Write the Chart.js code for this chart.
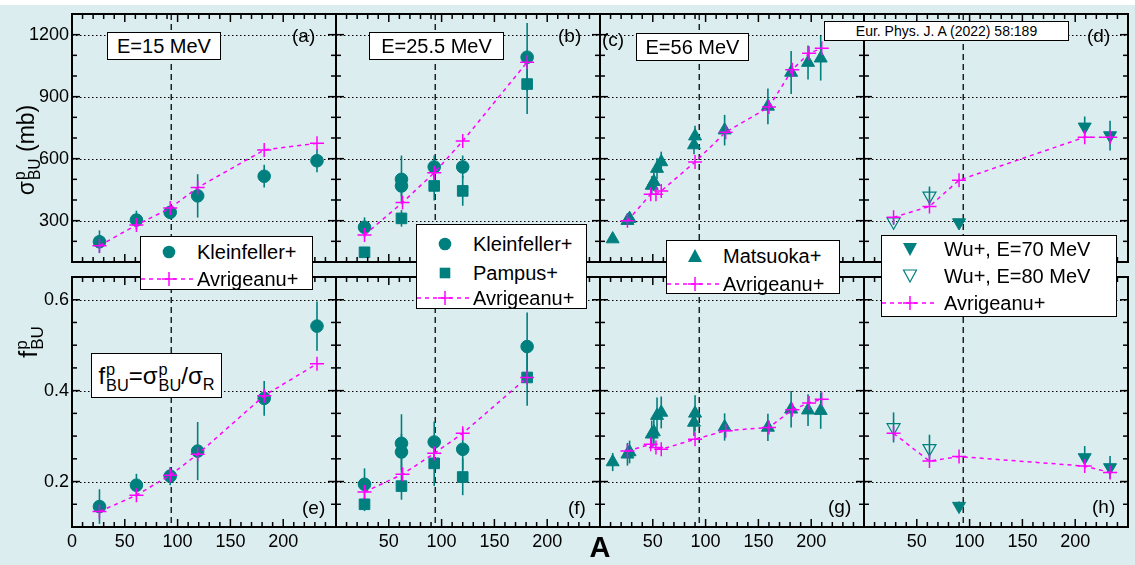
<!DOCTYPE html>
<html><head><meta charset="utf-8">
<script src="https://cdn.jsdelivr.net/npm/chart.js@4/dist/chart.umd.min.js"></script>
<style>
html,body{margin:0;padding:0;}
body{width:1135px;height:565px;position:relative;overflow:hidden;background:#fff;font-family:Arial,"Liberation Sans",Helvetica,sans-serif;color:#000;}
#bg{position:absolute;left:0;top:5px;width:1135px;height:560px;background:#dcedef;}
canvas{position:absolute;}
.box{position:absolute;background:#fff;border:1px solid #000;box-sizing:border-box;}
.t{position:absolute;white-space:nowrap;}
.lt{position:absolute;white-space:nowrap;font-size:20px;line-height:24px;}
.lm{position:absolute;}
.ss{display:inline-flex;flex-direction:column;vertical-align:middle;font-size:0.68em;line-height:0.95;text-align:left;margin-left:1px;}
.pl{position:absolute;font-size:19px;line-height:22px;white-space:nowrap;}
</style>
</head><body>
<div id="bg"></div>

<script>
// ---------------- DATA ----------------
const xLabelTicks = [0, 50, 100, 150, 200];
const sigmaLabelTicks = [300, 600, 900, 1200];
const fLabelTicks = [0.2, 0.4, 0.6];
const dividerA = 94;

// (a) E=15 MeV, sigma_BU^p (mb)
const aKleinA = [26, 61, 93, 119, 182, 232];
const aKleinSig = [198, 303, 340, 420, 515, 590];
const aKleinErr = [55, 45, 30, 105, 55, 56];
const aAvrA = [26, 61, 93, 119, 182, 232];
const aAvrSig = [179, 279, 361, 460, 642, 674];

// (e) E=15 MeV, f_BU^p
const eKleinF = [0.145, 0.192, 0.212, 0.267, 0.383, 0.542];
const eKleinErr = [0.038, 0.025, 0.02, 0.064, 0.038, 0.054];
const eAvrF = [0.134, 0.170, 0.214, 0.260, 0.389, 0.459];

// (b) E=25.5 MeV
const bKleinA = [27, 62, 62, 93, 120, 181];
const bKleinSig = [268, 500, 468, 560, 560, 1091];
const bKleinErr = [48, 115, 50, 55, 55, 165];
const bPampA = [27, 62, 93, 120, 181];
const bPampSig = [147, 311, 468, 444, 961];
const bPampErr = [12, 40, 70, 72, 145];
const bAvrA = [27, 63, 93, 120, 181];
const bAvrSig = [231, 388, 532, 685, 1067];

// (f) E=25.5 MeV
const fKleinF = [0.194, 0.284, 0.265, 0.287, 0.271, 0.497];
const fKleinErr = [0.035, 0.064, 0.04, 0.045, 0.045, 0.075];
const fPampF = [0.150, 0.190, 0.240, 0.210, 0.429];
const fPampErr = [0.015, 0.03, 0.05, 0.04, 0.062];
const fAvrF = [0.177, 0.216, 0.262, 0.306, 0.429];

// (c) E=56 MeV
const cMatA = [12, 26, 28, 49, 51, 54, 58, 89, 90, 118, 159, 181, 197, 209];
const cMatSig = [211, 300, 310, 470, 488, 552, 584, 666, 709, 738, 853, 1017, 1065, 1086];
const cMatErr = [15, 20, 20, 45, 45, 50, 50, 45, 50, 74, 87, 104, 82, 108];
const cAvrA = [26, 48, 53, 58, 90, 119, 160, 182, 198, 210];
const cAvrSig = [300, 428, 428, 444, 584, 728, 850, 1030, 1110, 1134];

// (g) E=56 MeV
const gMatF = [0.243, 0.260, 0.265, 0.304, 0.309, 0.345, 0.352, 0.330, 0.350, 0.320, 0.319, 0.359, 0.357, 0.356];
const gMatErr = [0.02, 0.025, 0.025, 0.03, 0.03, 0.04, 0.035, 0.03, 0.04, 0.03, 0.03, 0.04, 0.035, 0.04];
const gAvrF = [0.267, 0.282, 0.275, 0.271, 0.293, 0.312, 0.319, 0.358, 0.373, 0.381];

// (d) Wu+ E=70 / 80 MeV
const dWu70A = [90, 209, 233];
const dWu70Sig = [291, 754, 712];
const dWu70Err = [10, 50, 72];
const dWu80A = [28, 62];
const dWu80Sig = [295, 420];
const dWu80Err = [15, 45];
const dAvrA = [28, 62, 90, 209, 233];
const dAvrSig = [316, 369, 496, 704, 704];

// (h)
const hWu70F = [0.146, 0.253, 0.231];
const hWu70Err = [0.01, 0.025, 0.025];
const hWu80F = [0.319, 0.273];
const hWu80Err = [0.033, 0.03];
const hAvrF = [0.306, 0.245, 0.255, 0.234, 0.220];

// ---------------- STYLE / LAYOUT ----------------
const TEAL = '#007f7f';
const MAG = '#ff00ff';
const colLeft = [72, 336, 600, 864];
const panelW = 264;
const rowTop = [14, 277];
const rowH = [248, 250];
const rowRange = [{min:100, max:1300, minor:100, major:300}, {min:0.1, max:0.65, minor:0.05, major:0.2}];
const PADL = 60, PADT = 24, PADR = 24, PADB = 40;

function pts(xs, ys){ return xs.map((x,i)=>({x:x, y:ys[i]})); }

function avr(xs, ys){
  return {data:pts(xs,ys), showLine:true, borderColor:MAG, borderWidth:1.5, borderDash:[4,4],
    pointStyle:'cross', pointRadius:7, pointBorderWidth:1.5, pointBorderColor:MAG, backgroundColor:MAG, fill:false};
}
function marks(xs, ys, errs, style, opts){
  return Object.assign({data:pts(xs,ys), errors:errs, showLine:false, pointStyle:style, pointRadius:6.3,
    backgroundColor:TEAL, borderColor:TEAL, pointBorderWidth:1}, opts||{});
}

const framePlugin = {
  id:'frame',
  beforeDatasetsDraw(chart){
    const {ctx, chartArea:ca, scales:{x,y}} = chart;
    const o = chart.options.plugins.frame;
    ctx.save();
    ctx.strokeStyle = '#000'; ctx.lineWidth = 1; ctx.setLineDash([1.5,2.5]);
    o.yLabels.forEach(v=>{
      const py = Math.round(y.getPixelForValue(v))+0.5;
      ctx.beginPath(); ctx.moveTo(ca.left, py); ctx.lineTo(ca.right, py); ctx.stroke();
    });
    ctx.strokeStyle = '#222'; ctx.lineWidth = 1.5; ctx.setLineDash([6,4]);
    const dx = x.getPixelForValue(o.divider);
    ctx.beginPath(); ctx.moveTo(dx, ca.top); ctx.lineTo(dx, ca.bottom); ctx.stroke();
    ctx.setLineDash([]);
    ctx.beginPath(); ctx.rect(ca.left, ca.top, ca.right-ca.left, ca.bottom-ca.top); ctx.clip();
    chart.data.datasets.forEach(ds=>{
      if(!ds.errors) return;
      ctx.strokeStyle = TEAL; ctx.lineWidth = 1.6;
      ds.data.forEach((p,j)=>{
        const e = ds.errors[j]; if(!e) return;
        const px = x.getPixelForValue(p.x);
        ctx.beginPath(); ctx.moveTo(px, y.getPixelForValue(p.y-e)); ctx.lineTo(px, y.getPixelForValue(p.y+e)); ctx.stroke();
      });
    });
    ctx.restore();
  },
  afterDatasetsDraw(chart){
    const {ctx, chartArea:ca, scales:{x,y}} = chart;
    const o = chart.options.plugins.frame;
    ctx.save();
    ctx.strokeStyle = '#000'; ctx.setLineDash([]);
    ctx.lineWidth = 1.5;
    const eps = 1e-6;
    for(let v = 0; v <= 250+eps; v += 10){
      const px = x.getPixelForValue(v);
      const major = Math.abs(v/50 - Math.round(v/50)) < eps;
      const L = major ? 8 : 5;
      ctx.beginPath(); ctx.moveTo(px, ca.bottom); ctx.lineTo(px, ca.bottom-L); ctx.stroke();
      ctx.beginPath(); ctx.moveTo(px, ca.top); ctx.lineTo(px, ca.top+L); ctx.stroke();
    }
    for(let v = o.min; v <= o.max+eps; v += o.minor){
      const py = y.getPixelForValue(v);
      const r = v/o.major;
      const major = Math.abs(r - Math.round(r)) < 1e-4;
      const L = major ? 8 : 5;
      ctx.beginPath(); ctx.moveTo(ca.left, py); ctx.lineTo(ca.left+L, py); ctx.stroke();
      ctx.beginPath(); ctx.moveTo(ca.right, py); ctx.lineTo(ca.right-L, py); ctx.stroke();
    }
    ctx.lineWidth = 2;
    ctx.strokeRect(ca.left, ca.top, ca.right-ca.left, ca.bottom-ca.top);
    ctx.restore();
  }
};

function makePanel(row, col, datasets){
  const c = document.createElement('canvas');
  const w = panelW + PADL + PADR, h = rowH[row] + PADT + PADB;
  c.width = w; c.height = h;
  c.style.left = (colLeft[col]-PADL)+'px';
  c.style.top = (rowTop[row]-PADT)+'px';
  c.style.width = w+'px'; c.style.height = h+'px';
  document.body.appendChild(c);
  const rr = rowRange[row];
  const yLabels = row===0 ? sigmaLabelTicks : fLabelTicks;
  new Chart(c.getContext('2d'), {
    type:'scatter',
    data:{datasets:datasets},
    options:{
      responsive:false, animation:false, devicePixelRatio:1,
      layout:{padding:{top:PADT, right:PADR, left:0, bottom:0}},
      plugins:{legend:{display:false}, tooltip:{enabled:false},
        frame:{yLabels:yLabels, divider:dividerA, min:rr.min, max:rr.max, minor:rr.minor, major:rr.major}},
      scales:{
        x:{type:'linear', min:0, max:250,
          grid:{display:false, drawTicks:false}, border:{display:false},
          afterBuildTicks:(s)=>{ s.ticks = xLabelTicks.map(v=>({value:v})); },
          afterFit:(s)=>{ s.height = PADB; },
          ticks:{display: row===1, padding:4, color:'#000', font:{size:18, family:'Arial, "Liberation Sans", sans-serif'},
            autoSkip:false, maxRotation:0,
            callback:(v)=> (col>0 && v===0) ? '' : String(v)}
        },
        y:{type:'linear', min:rr.min, max:rr.max,
          grid:{display:false, drawTicks:false}, border:{display:false},
          afterBuildTicks:(s)=>{ s.ticks = yLabels.map(v=>({value:v})); },
          afterFit:(s)=>{ s.width = PADL; },
          ticks:{display: col===0, padding:3, color:'#000', font:{size:18, family:'Arial, "Liberation Sans", sans-serif'},
            autoSkip:false, callback:(v)=> String(v)}
        }
      }
    },
    plugins:[framePlugin]
  });
}

// top row
makePanel(0,0,[ avr(aAvrA,aAvrSig), marks(aKleinA,aKleinSig,aKleinErr,'circle') ]);
makePanel(0,1,[ avr(bAvrA,bAvrSig), marks(bKleinA,bKleinSig,bKleinErr,'circle'), marks(bPampA,bPampSig,bPampErr,'rect',{pointRadius:7.5}) ]);
makePanel(0,2,[ avr(cAvrA,cAvrSig), marks(cMatA,cMatSig,cMatErr,'triangle',{pointRadius:7.5}) ]);
makePanel(0,3,[ avr(dAvrA,dAvrSig), marks(dWu70A,dWu70Sig,dWu70Err,'triangle',{pointRadius:7.5, rotation:180}),
  marks(dWu80A,dWu80Sig,dWu80Err,'triangle',{pointRadius:7.5, rotation:180, backgroundColor:'rgba(0,0,0,0)', pointBorderWidth:1.2}) ]);
// bottom row
makePanel(1,0,[ avr(aAvrA,eAvrF), marks(aKleinA,eKleinF,eKleinErr,'circle') ]);
makePanel(1,1,[ avr(bAvrA,fAvrF), marks(bKleinA,fKleinF,fKleinErr,'circle'), marks(bPampA,fPampF,fPampErr,'rect',{pointRadius:7.5}) ]);
makePanel(1,2,[ avr(cAvrA,gAvrF), marks(cMatA,gMatF,gMatErr,'triangle',{pointRadius:7.5}) ]);
makePanel(1,3,[ avr(dAvrA,hAvrF), marks(dWu70A,hWu70F,hWu70Err,'triangle',{pointRadius:7.5, rotation:180}),
  marks(dWu80A,hWu80F,hWu80Err,'triangle',{pointRadius:7.5, rotation:180, backgroundColor:'rgba(0,0,0,0)', pointBorderWidth:1.2}) ]);
</script>

<!-- axis titles -->
<div class="t" style="left:28px;top:150px;transform:translate(-50%,-50%) rotate(-90deg);font-size:23px;">σ<span class="ss"><span>p</span><span>BU</span></span> (mb)</div>
<div class="t" style="left:30px;top:342px;transform:translate(-50%,-50%) rotate(-90deg);font-size:25px;">f<span class="ss"><span>p</span><span>BU</span></span></div>
<div class="t" style="left:600px;top:547px;transform:translate(-50%,-50%);font-size:29px;font-weight:bold;">A</div>

<!-- panel labels -->
<div class="pl" style="left:292px;top:25px;">(a)</div>
<div class="pl" style="left:558px;top:25px;">(b)</div>
<div class="pl" style="left:602px;top:29px;">(c)</div>
<div class="pl" style="left:1087px;top:25px;">(d)</div>
<div class="pl" style="left:302px;top:497px;">(e)</div>
<div class="pl" style="left:568px;top:497px;">(f)</div>
<div class="pl" style="left:828px;top:496px;">(g)</div>
<div class="pl" style="left:1092px;top:496px;">(h)</div>

<!-- energy boxes -->
<div class="box" style="left:107px;top:32px;width:114px;height:28px;font-size:20px;line-height:26px;text-align:center;">E=15 MeV</div>
<div class="box" style="left:369px;top:32px;width:135px;height:28px;font-size:20px;line-height:26px;text-align:center;">E=25.5 MeV</div>
<div class="box" style="left:636px;top:33px;width:113px;height:28px;font-size:20px;line-height:26px;text-align:center;">E=56 MeV</div>
<div class="box" style="left:824px;top:21px;width:245px;height:20px;font-size:14px;line-height:18px;text-align:center;">Eur. Phys. J. A (2022) 58:189</div>

<!-- formula box -->
<div class="box" style="left:91px;top:353px;width:131px;height:45px;font-size:24px;line-height:43px;text-align:center;">f<span class="ss"><span>p</span><span>BU</span></span>=σ<span class="ss"><span>p</span><span>BU</span></span>/σ<sub style="font-size:0.68em;">R</sub></div>

<!-- legend (a/e) -->
<div class="box" style="left:140px;top:236px;width:173px;height:54px;">
  <svg class="lm" style="left:20px;top:7px" width="16" height="16"><circle cx="8" cy="8" r="6.3" fill="#007f7f"/></svg>
  <div class="lt" style="left:56px;top:3px;">Kleinfeller+</div>
  <svg class="lm" style="left:0;top:34px" width="56" height="16"><line x1="0" y1="8" x2="54" y2="8" stroke="#ff00ff" stroke-width="1.5" stroke-dasharray="4 4"/><line x1="21" y1="8" x2="35" y2="8" stroke="#ff00ff" stroke-width="1.5"/><line x1="28" y1="1" x2="28" y2="15" stroke="#ff00ff" stroke-width="1.5"/></svg>
  <div class="lt" style="left:56px;top:30px;">Avrigeanu+</div>
</div>
<!-- legend (b/f) -->
<div class="box" style="left:416px;top:224px;width:171px;height:85px;">
  <svg class="lm" style="left:20px;top:11px" width="16" height="16"><circle cx="8" cy="8" r="6.3" fill="#007f7f"/></svg>
  <div class="lt" style="left:56px;top:7px;">Kleinfeller+</div>
  <svg class="lm" style="left:20px;top:40px" width="16" height="16"><rect x="2.7" y="2.7" width="10.6" height="10.6" fill="#007f7f"/></svg>
  <div class="lt" style="left:56px;top:36px;">Pampus+</div>
  <svg class="lm" style="left:0;top:65px" width="56" height="16"><line x1="0" y1="8" x2="54" y2="8" stroke="#ff00ff" stroke-width="1.5" stroke-dasharray="4 4"/><line x1="21" y1="8" x2="35" y2="8" stroke="#ff00ff" stroke-width="1.5"/><line x1="28" y1="1" x2="28" y2="15" stroke="#ff00ff" stroke-width="1.5"/></svg>
  <div class="lt" style="left:56px;top:61px;">Avrigeanu+</div>
</div>
<!-- legend (c/g) -->
<div class="box" style="left:666px;top:240px;width:174px;height:54px;">
  <svg class="lm" style="left:20px;top:7px" width="16" height="16"><polygon points="8,1 15,14 1,14" fill="#007f7f"/></svg>
  <div class="lt" style="left:56px;top:3px;">Matsuoka+</div>
  <svg class="lm" style="left:0;top:35px" width="56" height="16"><line x1="0" y1="8" x2="54" y2="8" stroke="#ff00ff" stroke-width="1.5" stroke-dasharray="4 4"/><line x1="21" y1="8" x2="35" y2="8" stroke="#ff00ff" stroke-width="1.5"/><line x1="28" y1="1" x2="28" y2="15" stroke="#ff00ff" stroke-width="1.5"/></svg>
  <div class="lt" style="left:56px;top:31px;">Avrigeanu+</div>
</div>
<!-- legend (d/h) -->
<div class="box" style="left:881px;top:235px;width:236px;height:82px;">
  <svg class="lm" style="left:20px;top:5px" width="16" height="16"><polygon points="1,2 15,2 8,15" fill="#007f7f"/></svg>
  <div class="lt" style="left:62px;top:1px;">Wu+, E=70 MeV</div>
  <svg class="lm" style="left:20px;top:32px" width="16" height="16"><polygon points="1.5,2 14.5,2 8,14" fill="none" stroke="#007f7f" stroke-width="1.2"/></svg>
  <div class="lt" style="left:62px;top:28px;">Wu+, E=80 MeV</div>
  <svg class="lm" style="left:0;top:59px" width="56" height="16"><line x1="0" y1="8" x2="54" y2="8" stroke="#ff00ff" stroke-width="1.5" stroke-dasharray="4 4"/><line x1="21" y1="8" x2="35" y2="8" stroke="#ff00ff" stroke-width="1.5"/><line x1="28" y1="1" x2="28" y2="15" stroke="#ff00ff" stroke-width="1.5"/></svg>
  <div class="lt" style="left:62px;top:55px;">Avrigeanu+</div>
</div>
</body></html>
